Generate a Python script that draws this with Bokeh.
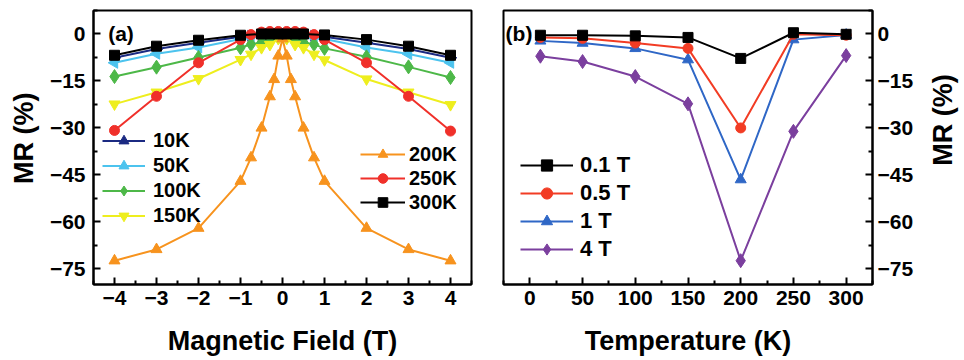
import math
from bokeh.plotting import figure
from bokeh.models import FixedTicker, Legend, LegendItem, Label, Range1d
from bokeh.layouts import row
from bokeh.embed import file_html
from bokeh.resources import INLINE

FONT = "Liberation Sans"
H = 358

# ---------------- Panel (a) data: MR vs magnetic field ----------------
field_10K = [-4, -3, -2, -1, -0.75, -0.5, -0.3, -0.1, 0.1, 0.3, 0.5, 0.75, 1, 2, 3, 4]
mr_10K = [-7.6, -4.8, -2.8, -0.9, -0.6, -0.4, -0.2, -0.1, -0.1, -0.2, -0.4, -0.6, -0.9, -2.8, -4.8, -7.6]

field_50K = [-4, -3, -2, -1, -0.75, -0.5, -0.3, -0.1, 0.1, 0.3, 0.5, 0.75, 1, 2, 3, 4]
mr_50K = [-9.2, -6.3, -4.3, -1.6, -1.2, -0.8, -0.5, -0.2, -0.2, -0.5, -0.8, -1.2, -1.6, -4.3, -6.4, -9.2]

field_100K = [-4, -3, -2, -1, -0.75, -0.5, -0.3, -0.1, 0.1, 0.3, 0.5, 0.75, 1, 2, 3, 4]
mr_100K = [-13.6, -10.6, -7.5, -4.4, -3.3, -2.7, -2.0, -1.0, -1.0, -2.0, -2.7, -3.3, -4.6, -7.3, -10.5, -13.9]

field_150K = [-4, -3, -2, -1, -0.75, -0.5, -0.3, -0.1, 0.1, 0.3, 0.5, 0.75, 1, 2, 3, 4]
mr_150K = [-22.4, -18.6, -14.3, -8.2, -6.5, -4.4, -3.4, -1.5, -1.5, -3.4, -4.4, -6.5, -8.3, -14.4, -18.6, -22.6]

field_200K = [-4, -3, -2, -1, -0.75, -0.5, -0.3, -0.2, -0.1, 0, 0.1, 0.2, 0.3, 0.5, 0.75, 1, 2, 3, 4]
mr_200K = [-72.4, -68.8, -62.0, -47.0, -39.5, -30.0, -20.0, -14.5, -7.0, -1.5,
           -7.0, -14.5, -20.0, -30.0, -39.5, -47.0, -62.0, -68.8, -72.4]

field_250K = [-4, -3, -2, -1, -0.75, -0.5, -0.3, -0.1, 0.1, 0.3, 0.5, 0.75, 1, 2, 3, 4]
mr_250K = [-30.8, -19.9, -9.2, -1.8, -0.2, 0.6, 0.8, 0.8, 0.8, 0.8, 0.6, -0.2, -1.8, -9.2, -19.9, -31.0]

field_300K = [-4, -3, -2, -1, -0.5, -0.3, -0.1, 0.1, 0.3, 0.5, 1, 2, 3, 4]
mr_300K = [-6.8, -3.9, -2.0, -0.4, 0.0, 0.0, 0.0, 0.0, 0.0, 0.0, -0.3, -1.8, -3.9, -6.8]

field_ticks = [-4, -3, -2, -1, 0, 1, 2, 3, 4]
field_minor = [-4.5, -3.5, -2.5, -1.5, -0.5, 0.5, 1.5, 2.5, 3.5, 4.5]
mr_ticks = [-75, -60, -45, -30, -15, 0]
mr_minor = [-82.5, -67.5, -52.5, -37.5, -22.5, -7.5, 7.5]

# ---------------- Panel (b) data: MR vs temperature ----------------
temps = [10, 50, 100, 150, 200, 250, 300]
mr_01T = [-0.4, -0.4, -0.6, -1.1, -7.8, 0.4, -0.1]
mr_05T = [-1.1, -1.4, -2.9, -4.6, -30.0, -0.1, -0.4]
mr_1T = [-2.2, -2.9, -4.6, -8.2, -46.5, -1.8, -0.3]
mr_4T = [-7.1, -8.8, -13.6, -22.3, -72.4, -31.1, -6.9]

temp_ticks = [0, 50, 100, 150, 200, 250, 300]
temp_minor = [-25, 25, 75, 125, 175, 225, 275, 325]


def style_axis(ax, ticks, minor):
    ax.ticker = FixedTicker(ticks=ticks, minor_ticks=minor)
    ax.axis_line_width = 2
    ax.axis_line_color = "black"
    ax.major_tick_in = 7
    ax.major_tick_out = 0
    ax.minor_tick_in = 4
    ax.minor_tick_out = 0
    ax.major_tick_line_width = 2
    ax.minor_tick_line_width = 2
    ax.major_label_text_font = FONT
    ax.major_label_text_font_style = "bold"
    ax.major_label_text_font_size = "21px"
    ax.major_label_text_color = "black"
    ax.axis_label_text_font = FONT
    ax.axis_label_text_font_style = "bold"
    ax.axis_label_text_font_size = "27px"
    ax.axis_label_text_color = "black"


def base_fig(width, xr, ax_loc, lb, rb):
    p = figure(width=width, height=H, output_backend="svg", toolbar_location=None,
               x_range=Range1d(*xr), y_range=Range1d(-80, 7.5),
               y_axis_location=ax_loc,
               min_border_left=lb, min_border_right=rb,
               min_border_top=10, min_border_bottom=H - 10 - 277)
    p.xgrid.visible = False
    p.ygrid.visible = False
    p.outline_line_color = "black"
    p.outline_line_width = 2
    p.outline_line_alpha = 1
    p.background_fill_color = "white"
    p.border_fill_color = "white"
    return p


def title_fig(width, x, y, text):
    # narrow strip that only carries a rotated axis title
    p = figure(width=width, height=H, output_backend="svg", toolbar_location=None,
               x_range=Range1d(0, width), y_range=Range1d(0, H),
               x_axis_type=None, y_axis_type=None,
               min_border_left=0, min_border_right=0,
               min_border_top=0, min_border_bottom=0)
    p.outline_line_color = None
    p.background_fill_color = "white"
    p.border_fill_color = "white"
    p.add_layout(Label(x=x, y=y, text=text, angle=math.pi / 2, text_align="center",
                       text_baseline="middle", text_font=FONT, text_font_style="bold",
                       text_font_size="27px", text_color="black"))
    return p


# ---------------- Figure (a) ----------------
pa = base_fig(442, (-4.5, 4.5), "left", 47, 17)
style_axis(pa.xaxis[0], field_ticks, field_minor)
style_axis(pa.yaxis[0], mr_ticks, mr_minor)
pa.xaxis[0].axis_label = "Magnetic Field (T)"
pa.xaxis[0].major_label_standoff = 6
pa.xaxis[0].axis_label_standoff = 18
pa.yaxis[0].major_label_standoff = 8

series_a = [
    ("10K", field_10K, mr_10K, "#1b2a82", "triangle", 11, -math.pi / 2),
    ("50K", field_50K, mr_50K, "#4cc3ee", "triangle", 11, math.pi / 2),
    ("100K", field_100K, mr_100K, "#4db848", "diamond", 14, 0),
    ("150K", field_150K, mr_150K, "#eeee1e", "inverted_triangle", 11, 0),
    ("200K", field_200K, mr_200K, "#f7931e", "triangle", 11, 0),
    ("250K", field_250K, mr_250K, "#f0302a", "circle", 10, 0),
    ("300K", field_300K, mr_300K, "#000000", "square", 10, 0),
]
items_a = {}
for name, xs, ys, col, mk, sz, ang in series_a:
    ln = pa.line(xs, ys, line_color=col, line_width=2)
    sc = pa.scatter(xs, ys, marker=mk, size=sz, angle=ang, fill_color=col, line_color=col)
    items_a[name] = LegendItem(label=name, renderers=[ln, sc])

leg_a1 = Legend(items=[items_a[k] for k in ["10K", "50K", "100K", "150K"]],
                location=(9, 56))
leg_a2 = Legend(items=[items_a[k] for k in ["200K", "250K", "300K"]],
                location=(267, 70))
for lg, gw, st, h in [(leg_a1, 43, 8, 25), (leg_a2, 45, 4, 24)]:
    lg.glyph_width = gw
    lg.glyph_height = h
    lg.label_height = h
    lg.label_standoff = st
    lg.padding = 0
    lg.margin = 0
    lg.spacing = 0
    lg.background_fill_alpha = 0
    lg.border_line_alpha = 0
    lg.label_text_font = FONT
    lg.label_text_font_style = "bold"
    lg.label_text_font_size = "20px"
    lg.label_text_color = "black"
    pa.add_layout(lg, "center")

pa.add_layout(Label(x=-4.15, y=0.1, text="(a)", text_baseline="middle",
                    text_font=FONT, text_font_style="bold", text_font_size="21px",
                    text_color="black"))

# ---------------- Figure (b) ----------------
pb = base_fig(428, (-25, 325), "right", 15, 36)
style_axis(pb.xaxis[0], temp_ticks, temp_minor)
style_axis(pb.yaxis[0], mr_ticks, mr_minor)
pb.xaxis[0].axis_label = "Temperature (K)"
pb.xaxis[0].major_label_standoff = 6
pb.xaxis[0].axis_label_standoff = 18
pb.yaxis[0].major_label_standoff = 5

series_b = [
    ("4 T", mr_4T, "#7b3f9e", "diamond", 14),
    ("1 T", mr_1T, "#2f67c6", "triangle", 11),
    ("0.5 T", mr_05T, "#f23c24", "circle", 10),
    ("0.1 T", mr_01T, "#000000", "square", 10),
]
items_b = {}
for name, ys, col, mk, sz in series_b:
    ln = pb.line(temps, ys, line_color=col, line_width=2)
    sc = pb.scatter(temps, ys, marker=mk, size=sz, fill_color=col, line_color=col)
    items_b[name] = LegendItem(label=name, renderers=[ln, sc])

leg_b = Legend(items=[items_b[k] for k in ["0.1 T", "0.5 T", "1 T", "4 T"]],
               location=(17, 21))
leg_b.glyph_width = 53
leg_b.glyph_height = 28
leg_b.label_height = 28
leg_b.label_standoff = 7
leg_b.padding = 0
leg_b.margin = 0
leg_b.spacing = 0
leg_b.background_fill_alpha = 0
leg_b.border_line_alpha = 0
leg_b.label_text_font = FONT
leg_b.label_text_font_style = "bold"
leg_b.label_text_font_size = "22px"
leg_b.label_text_color = "black"
pb.add_layout(leg_b, "center")

pb.add_layout(Label(x=-23, y=0.1, text="(b)", text_baseline="middle",
                    text_font=FONT, text_font_style="bold", text_font_size="21px",
                    text_color="black"))

# axis titles for the y axes, placed in narrow side strips
pL = title_fig(46, 23, H - 167, "MR (%)")
pR = title_fig(44, 26, H - 143, "MR (%)")

layout = row(pL, pa, pb, pR)
open("out.html", "w").write(file_html(layout, INLINE))
